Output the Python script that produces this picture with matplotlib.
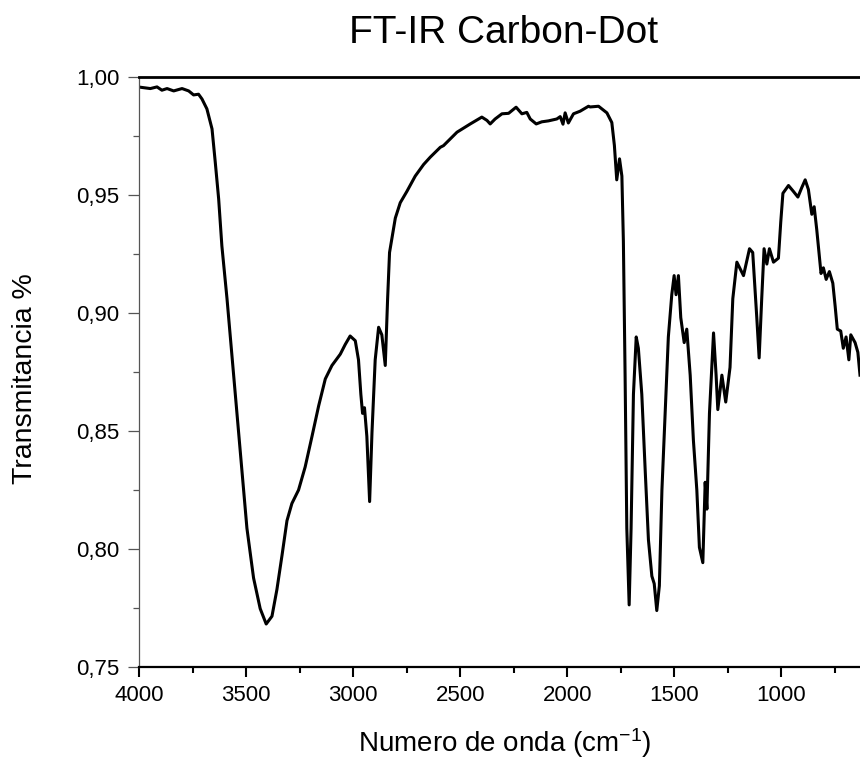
import matplotlib
matplotlib.use("Agg")
import matplotlib.pyplot as plt
from matplotlib.ticker import MultipleLocator, FuncFormatter

plt.rcParams['font.family'] = ['Liberation Sans', 'DejaVu Sans']
plt.rcParams['mathtext.fontset'] = 'custom'
plt.rcParams['mathtext.rm'] = 'Liberation Sans'
plt.rcParams['mathtext.default'] = 'regular'

title = "FT-IR Carbon-Dot"
xlabel = "Numero de onda (cm$^{-1}$)"
ylabel = "Transmitancia %"

wavenumber = [
    3997, 3947, 3916, 3893, 3869, 3838, 3799, 3768, 3745, 3722, 3706, 3683, 3659, 3644,
    3628, 3613, 3589, 3558, 3527, 3496, 3465, 3434, 3406, 3379, 3356, 3332, 3309, 3286,
    3255, 3224, 3192, 3161, 3130, 3099, 3060, 3037, 3014, 2990, 2975, 2964, 2956, 2947,
    2936, 2923, 2912, 2897, 2881, 2866, 2850, 2839, 2830, 2803, 2780, 2749, 2710, 2671,
    2640, 2593, 2578, 2515, 2453, 2399, 2375, 2360, 2337, 2305, 2274, 2239, 2212, 2189,
    2173, 2145, 2119, 2088, 2049, 2033, 2020, 2010, 1995, 1971, 1940, 1901, 1893, 1854,
    1815, 1792, 1780, 1769, 1756, 1745, 1738, 1730, 1722, 1711, 1702, 1691, 1678, 1668,
    1652, 1636, 1621, 1605, 1594, 1582, 1570, 1558, 1543, 1528, 1512, 1501, 1492, 1481,
    1470, 1454, 1442, 1426, 1411, 1395, 1383, 1367, 1356, 1348, 1336, 1317, 1305, 1297,
    1278, 1260, 1240, 1227, 1208, 1177, 1149, 1134, 1115, 1104, 1092, 1081, 1068, 1056,
    1037, 1014, 1003, 993, 967, 944, 923, 905, 889, 874, 858, 847, 835, 815,
    804, 791, 776, 760, 749, 739, 723, 711, 698, 685, 676, 656, 643, 633,
]
transmittance = [
    0.9957, 0.9951, 0.9958, 0.9944, 0.9951, 0.9941, 0.9951, 0.9941, 0.9924, 0.9927, 0.9907, 0.9865, 0.9780, 0.9640,
    0.9483, 0.9284, 0.9060, 0.8736, 0.8412, 0.8087, 0.7876, 0.7746, 0.7681, 0.7714, 0.7827, 0.7973, 0.8119, 0.8192,
    0.8249, 0.8347, 0.8477, 0.8606, 0.8720, 0.8777, 0.8825, 0.8866, 0.8902, 0.8882, 0.8801, 0.8655, 0.8574, 0.8598,
    0.8477, 0.8200, 0.8493, 0.8801, 0.8939, 0.8907, 0.8777, 0.9060, 0.9256, 0.9402, 0.9467, 0.9515, 0.9580, 0.9629,
    0.9660, 0.9702, 0.9709, 0.9766, 0.9801, 0.9830, 0.9816, 0.9801, 0.9822, 0.9844, 0.9846, 0.9872, 0.9844, 0.9850,
    0.9822, 0.9801, 0.9810, 0.9814, 0.9822, 0.9832, 0.9800, 0.9848, 0.9805, 0.9844, 0.9855, 0.9876, 0.9873, 0.9876,
    0.9848, 0.9807, 0.9710, 0.9564, 0.9653, 0.9580, 0.9304, 0.8736, 0.8087, 0.7762, 0.8087, 0.8655, 0.8898, 0.8850,
    0.8655, 0.8330, 0.8038, 0.7884, 0.7852, 0.7738, 0.7843, 0.8249, 0.8574, 0.8898, 0.9077, 0.9158, 0.9077, 0.9158,
    0.8980, 0.8874, 0.8931, 0.8736, 0.8460, 0.8249, 0.8006, 0.7941, 0.8282, 0.8168, 0.8574, 0.8915, 0.8736, 0.8590,
    0.8736, 0.8622, 0.8769, 0.9060, 0.9215, 0.9158, 0.9272, 0.9256, 0.8980, 0.8809, 0.9060, 0.9272, 0.9207, 0.9272,
    0.9215, 0.9232, 0.9386, 0.9507, 0.9540, 0.9515, 0.9491, 0.9531, 0.9564, 0.9523, 0.9418, 0.9450, 0.9353, 0.9167,
    0.9191, 0.9142, 0.9175, 0.9126, 0.9028, 0.8931, 0.8923, 0.8850, 0.8898, 0.8801, 0.8907, 0.8874, 0.8833, 0.8736,
]

fig = plt.figure(figsize=(8.6, 7.62), dpi=100)
ax = fig.add_axes([139 / 860, (762 - 666.7) / 762, (860 - 139) / 860, (666.7 - 77) / 762])

ax.plot(wavenumber, transmittance, color='black', lw=2.2, solid_joinstyle='round')

ax.set_xlim(4000, 633)
ax.set_ylim(0.75, 1.0)

ax.xaxis.set_major_locator(MultipleLocator(500))
ax.xaxis.set_minor_locator(MultipleLocator(250))
ax.yaxis.set_major_locator(MultipleLocator(0.05))
ax.yaxis.set_minor_locator(MultipleLocator(0.025))
ax.yaxis.set_major_formatter(FuncFormatter(lambda v, p: f"{v:.2f}".replace('.', ',')))
ax.xaxis.set_major_formatter(FuncFormatter(lambda v, p: f"{v:.0f}"))

ax.spines['right'].set_visible(False)
ax.spines['top'].set_linewidth(2.0)
ax.spines['top'].set_color('black')
ax.spines['bottom'].set_linewidth(1.6)
ax.spines['bottom'].set_color('black')
ax.spines['left'].set_linewidth(0.9)
ax.spines['left'].set_color('#555555')

ax.tick_params(axis='x', which='major', direction='out', length=7.5, width=1.5, color='black',
               labelsize=16, pad=6, top=False)
ax.tick_params(axis='x', which='minor', direction='out', length=4, width=1.5, color='black', top=False)
ax.tick_params(axis='y', which='major', direction='out', length=8, width=0.9, color='#555555',
               labelsize=16, pad=6, right=False)
ax.tick_params(axis='y', which='minor', direction='out', length=4, width=0.9, color='#555555', right=False)

fig.text(503.8 / 860, 1 - 43.3 / 762, title, ha='center', va='baseline', fontsize=28)
fig.text(505 / 860, 1 - 752 / 762, xlabel, ha='center', va='baseline', fontsize=20)
fig.text(25 / 860, 1 - 379 / 762, ylabel, ha='center', va='center', rotation=90, fontsize=20.5)

fig.savefig("out.png", dpi=100)
